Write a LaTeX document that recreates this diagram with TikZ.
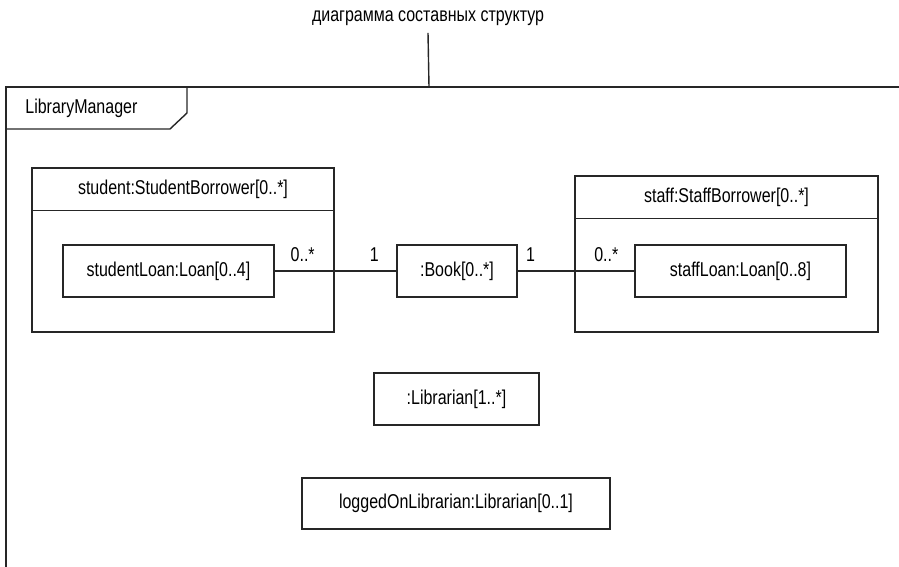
\documentclass[tikz,border=0pt]{standalone}
\usepackage{fontspec}
\setmainfont{Liberation Sans}[FakeStretch=0.8]

\begin{document}
\begin{tikzpicture}[x=0.5pt, y=-0.5pt, line width=0.7pt, draw=black!85,
    font=\fontsize{10}{12}\selectfont,
    part/.style={draw, minimum height=26pt, inner sep=0pt},
    owner/.style={draw, inner sep=0pt},
    mult/.style={yshift=8pt}]
        \useasboundingbox (0,0) rectangle (899,567);
        % frame and its tab
        \node (title) at (428,18) {диаграмма составных структур};
        \coordinate (frametop) at (429,87);
        \draw (title.south) -- (frametop);
        \draw (899,87) -- (6,87) -- (6,567);
        \draw (6,129) -- (170,129) -- (187,113) -- (187,87);
        \node[anchor=west] (manager) at (18,108) {LibraryManager};
        % borrowers
        \node[owner, minimum width=151pt, minimum height=82pt] (student) at (183,250) {};
        \node (studentHead) at (183,189.5) {student:StudentBorrower[0..*]};
        \draw (student.north west) ++(0,43) -- ++(302,0);
        \node[owner, minimum width=151.5pt, minimum height=78pt] (staff) at (726.5,254) {};
        \node (staffHead) at (726.5,197.5) {staff:StaffBorrower[0..*]};
        \draw (staff.north west) ++(0,43) -- ++(303,0);
        % parts
        \node[part, minimum width=105.5pt] (studentLoan) at (168.5,271) {studentLoan:Loan[0..4]};
        \node[part, minimum width=60pt] (book) at (457,271) {:Book[0..*]};
        \node[part, minimum width=105.5pt] (staffLoan) at (740.5,271) {staffLoan:Loan[0..8]};
        \node[part, minimum width=82.5pt] (librarian) at (456.5,399) {:Librarian[1..*]};
        \node[part, minimum width=154pt, minimum height=25.5pt] (loggedOn) at (456,503.5) {loggedOnLibrarian:Librarian[0..1]};
        % connectors
        \draw (studentLoan.east) -- (book.west)
            node[pos=0.23, mult] {0..*} node[pos=0.82, mult] {1};
        \draw (book.east) -- (staffLoan.west)
            node[pos=0.11, mult] {1} node[pos=0.76, mult] {0..*};
    \end{tikzpicture}
\end{document}
